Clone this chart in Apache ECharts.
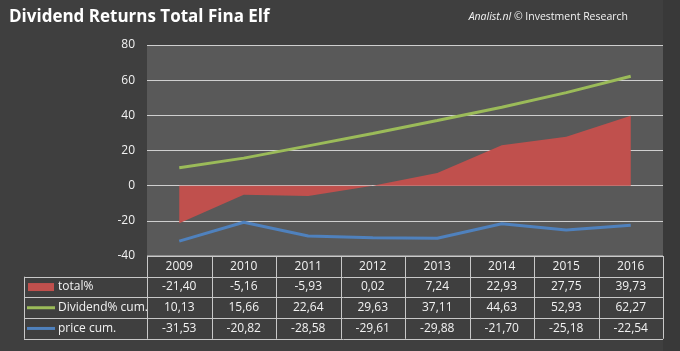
<!DOCTYPE html>
<html>
<head>
<meta charset="utf-8">
<script src="https://cdn.jsdelivr.net/npm/echarts@6/dist/echarts.min.js"></script>
<style>
  html, body { margin: 0; padding: 0; background: #3f3f3f; }
  #chart { width: 680px; height: 351px; }
</style>
</head>
<body>
<div id="chart"></div>
<script>
const years = ['2009', '2010', '2011', '2012', '2013', '2014', '2015', '2016']
const totalPct = [-21.40, -5.16, -5.93, 0.02, 7.24, 22.93, 27.75, 39.73]
const dividendCum = [10.13, 15.66, 22.64, 29.63, 37.11, 44.63, 52.93, 62.27]
const priceCum = [-31.53, -20.82, -28.58, -29.61, -29.88, -21.70, -25.18, -22.54]
const seriesNames = ['total%', 'Dividend% cum.', 'price cum.']
const yTicks = { min: -40, max: 80, step: 20 }

const colors = ['#c0504d', '#9bbb59', '#4f81bd']
const font = '"Open Sans", "DejaVu Sans", sans-serif'
const textColor = '#f2f2f2'
const borderColor = '#c8c8c8'

const gridLeft = 147
const gridRight = 663
const gridTop = 45
const gridBottom = 256
const rowH = 20.7
const legendLeft = 24

const chart = echarts.init(document.getElementById('chart'), null, { renderer: 'canvas' })

const fmt = (v) => v.toFixed(2).replace('.', ',')

chart.setOption({
  backgroundColor: '#3f3f3f',
  animation: false,
  textStyle: { fontFamily: font },
  title: {
    text: 'Dividend Returns Total Fina Elf',
    left: 4,
    top: 4,
    textStyle: { color: '#ffffff', fontSize: 17, fontWeight: 'bold', fontFamily: font },
  },
  grid: {
    left: gridLeft,
    right: 680 - gridRight,
    top: gridTop,
    bottom: 351 - gridBottom,
    show: true,
    backgroundColor: '#595959',
    borderWidth: 0,
  },
  xAxis: {
    type: 'category',
    data: years,
    boundaryGap: true,
    axisLine: { show: false },
    axisTick: { show: false },
    axisLabel: { show: false },
  },
  yAxis: {
    type: 'value',
    min: yTicks.min,
    max: yTicks.max,
    interval: yTicks.step,
    axisLine: { show: false },
    axisTick: { show: false },
    axisLabel: { color: textColor, fontSize: 12, margin: 12, fontFamily: font },
    splitLine: { lineStyle: { color: '#cfcfcf', width: 1.2 } },
  },
  series: [
    {
      name: seriesNames[0],
      type: 'line',
      data: totalPct,
      showSymbol: false,
      lineStyle: { width: 0 },
      areaStyle: { color: colors[0], opacity: 1 },
      color: colors[0],
      z: 2,
    },
    {
      name: seriesNames[1],
      type: 'line',
      data: dividendCum,
      showSymbol: false,
      lineStyle: { width: 3, color: colors[1] },
      color: colors[1],
      z: 3,
    },
    {
      name: seriesNames[2],
      type: 'line',
      data: priceCum,
      showSymbol: false,
      lineStyle: { width: 3, color: colors[2] },
      color: colors[2],
      z: 3,
    },
  ],
})

// data table under the plot
const colW = (gridRight - gridLeft) / years.length
const rows = [totalPct, dividendCum, priceCum]
const g = []
const line = (x1, y1, x2, y2) => ({
  type: 'line',
  shape: { x1, y1, x2, y2 },
  style: { stroke: borderColor, lineWidth: 1 },
  silent: true,
})
const txt = (x, y, text, align) => ({
  type: 'text',
  x, y,
  style: {
    text, fill: textColor, font: '12px ' + font,
    align: align || 'center', verticalAlign: 'middle',
  },
  silent: true,
})

// right margin band is a bit darker
g.push({ type: 'rect', shape: { x: gridRight, y: 0, width: 680 - gridRight, height: 351 }, style: { fill: '#393939' }, silent: true })

// header row
g.push(line(gridLeft, gridBottom, gridRight, gridBottom))
years.forEach((y, i) => {
  const cx = chart.convertToPixel({ xAxisIndex: 0 }, i)
  g.push(txt(cx, gridBottom + rowH / 2, y))
})
// horizontal lines
for (let r = 1; r <= rows.length + 1; r++) {
  const y = Math.round(gridBottom + r * rowH) + 0.5
  g.push(line(legendLeft, y, gridRight, y))
}
// vertical lines
for (let c = 0; c <= years.length; c++) {
  const x = Math.round(gridLeft + c * colW) + 0.5
  g.push(line(x, gridBottom, x, gridBottom + (rows.length + 1) * rowH))
}
g.push(line(legendLeft + 0.5, gridBottom + rowH, legendLeft + 0.5, gridBottom + (rows.length + 1) * rowH))

rows.forEach((vals, r) => {
  const cy = gridBottom + (r + 1.5) * rowH
  vals.forEach((v, i) => {
    const cx = chart.convertToPixel({ xAxisIndex: 0 }, i)
    g.push(txt(cx, cy, fmt(v)))
  })
  // legend key
  if (r === 0) {
    g.push({ type: 'rect', shape: { x: 28, y: cy - 4, width: 26, height: 8 }, style: { fill: colors[0] }, silent: true })
  } else {
    g.push({ type: 'line', shape: { x1: 27, y1: cy, x2: 55, y2: cy }, style: { stroke: colors[r], lineWidth: 3 }, silent: true })
  }
  g.push(txt(58, cy, seriesNames[r], 'left'))
})

// credit text
g.push({
  type: 'text',
  x: 628, y: 17,
  style: {
    text: '{a|Analist.nl} © Investment Research',
    rich: { a: { fontStyle: 'italic', fill: textColor, font: 'italic 10.5px ' + font } },
    fill: textColor, font: '10.5px ' + font,
    align: 'right', verticalAlign: 'middle',
  },
  silent: true,
})

chart.setOption({ graphic: g })
</script>
</body>
</html>
